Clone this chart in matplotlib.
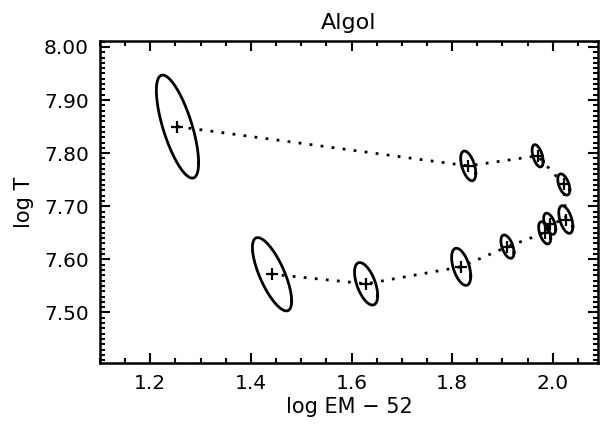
import numpy as np
import matplotlib
matplotlib.use("Agg")
import matplotlib.pyplot as plt
from matplotlib.ticker import MultipleLocator

# points along the track (log EM - 52, log T), in drawing order
log_em = [1.254, 1.832, 1.970, 2.022, 2.026, 1.994, 1.984, 1.910, 1.818, 1.629, 1.442]
log_t = [7.850, 7.776, 7.795, 7.741, 7.675, 7.667, 7.650, 7.624, 7.586, 7.554, 7.572]
# error ellipses: half extents in x and y, and correlation
err_em = [0.042, 0.015, 0.011, 0.012, 0.014, 0.012, 0.012, 0.013, 0.019, 0.023, 0.039]
err_t = [0.097, 0.028, 0.021, 0.020, 0.026, 0.020, 0.021, 0.022, 0.035, 0.040, 0.069]
rho = [-0.70, -0.50, -0.50, -0.50, -0.50, -0.50, -0.50, -0.50, -0.50, -0.55, -0.73]

plt.rcParams['font.family'] = 'DejaVu Sans'
fig = plt.figure(figsize=(6.01, 4.28), dpi=100)
ax = fig.add_axes([0.1664, 0.152, 0.8286, 0.752])

ax.plot(log_em, log_t, color='black', lw=2.0, linestyle=(0, (1, 3)))
ax.plot(log_em, log_t, '+', color='black', ms=8, mew=1.6)

t = np.linspace(0, 2*np.pi, 200)
for cx, cy, dx, dy, r in zip(log_em, log_t, err_em, err_t, rho):
    ex = cx + dx*np.cos(t)
    ey = cy + dy*(r*np.cos(t) + np.sqrt(1 - r*r)*np.sin(t))
    ax.plot(ex, ey, color='black', lw=2.0)

ax.set_xlim(1.1, 2.09)
ax.set_ylim(7.405, 8.011)
ax.xaxis.set_major_locator(MultipleLocator(0.2))
ax.xaxis.set_minor_locator(MultipleLocator(0.05))
ax.yaxis.set_major_locator(MultipleLocator(0.1))
ax.yaxis.set_minor_locator(MultipleLocator(0.01))
ax.xaxis.set_major_formatter(plt.FormatStrFormatter('%.1f'))
ax.yaxis.set_major_formatter(plt.FormatStrFormatter('%.2f'))
ax.tick_params(which='both', direction='in', top=True, right=True, width=1.5, labelsize=14.5)
ax.tick_params(which='major', length=7, pad=8)
ax.tick_params(which='minor', length=3.5)
for s in ax.spines.values():
    s.set_linewidth(1.8)

ax.set_title("Algol", fontsize=16, pad=9)
ax.set_xlabel("log EM \u2212 52", fontsize=15, labelpad=3)
ax.set_ylabel("log T", fontsize=15, labelpad=7)

fig.savefig("out.png", dpi=100)
